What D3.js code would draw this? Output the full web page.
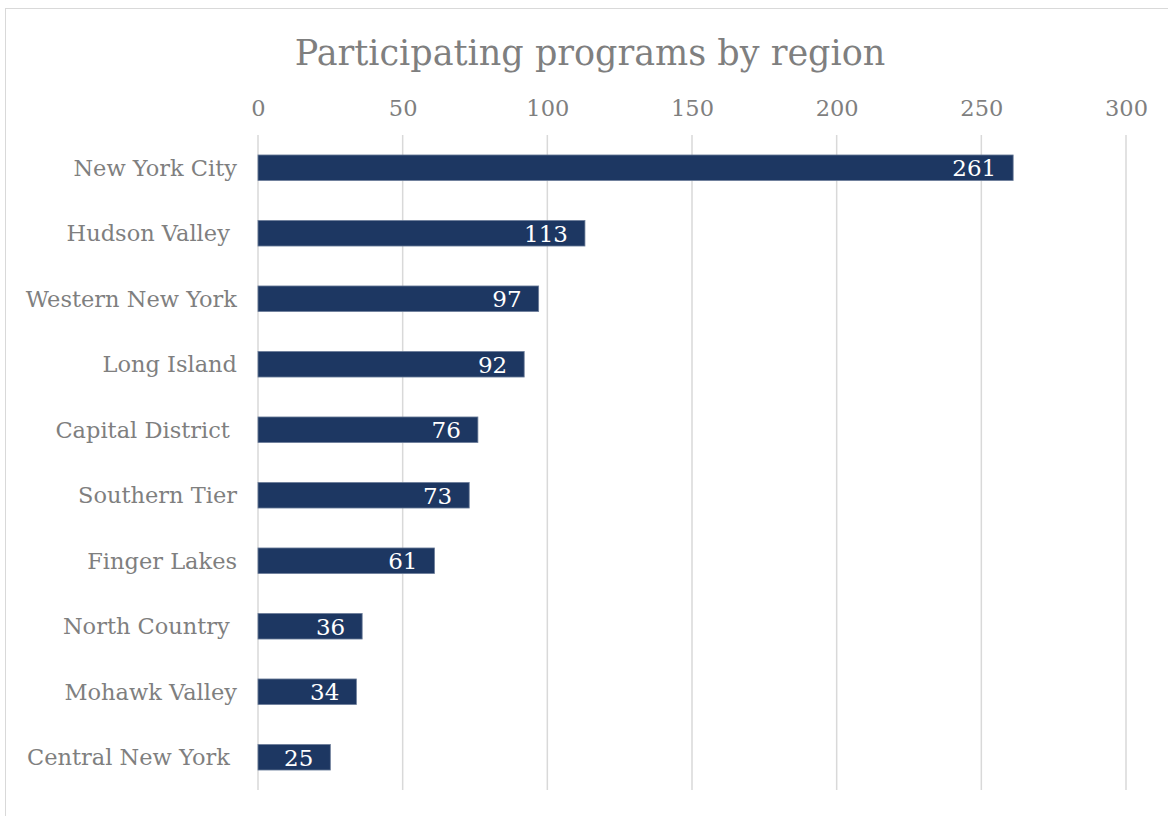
<!DOCTYPE html>
<html>
<head>
<meta charset="utf-8">
<script src="https://cdn.jsdelivr.net/npm/d3@7"></script>
<style>
  body { margin: 0; background: #fff; }
  text { font-family: "DejaVu Serif", serif; white-space: pre; }
</style>
</head>
<body>
<div id="wrapper"></div>
<script>
// region names (some carry a trailing space, as in the source sheet)
const regions = [
  "New York City", "Hudson Valley ", "Western New York", "Long Island",
  "Capital District ", "Southern Tier", "Finger Lakes", "North Country ",
  "Mohawk Valley", "Central New York "
];
const programs = [261, 113, 97, 92, 76, 73, 61, 36, 34, 25];
const xTicks = [0, 50, 100, 150, 200, 250, 300];

const width = 1168, height = 816;
const margin = { top: 135, right: 42, bottom: 26, left: 258 };

const svg = d3.select("#wrapper").append("svg")
  .attr("width", width)
  .attr("height", height);

// chart frame
svg.append("rect")
  .attr("x", 5.5).attr("y", 8.5)
  .attr("width", width - 4).attr("height", height)
  .attr("fill", "none")
  .attr("stroke", "#d9d9d9");

const x = d3.scaleLinear()
  .domain([0, 300])
  .range([margin.left, width - margin.right]);

const y = d3.scaleBand()
  .domain(regions)
  .range([margin.top, height - margin.bottom])
  .paddingInner(0.61)
  .paddingOuter(0.305);

// title
svg.append("text")
  .attr("x", 590)
  .attr("y", 65)
  .attr("text-anchor", "middle")
  .style("font-size", "35px")
  .style("fill", "#7f7f7f")
  .text("Participating programs by region");

// gridlines
svg.append("g")
  .selectAll("line")
  .data(xTicks)
  .join("line")
  .attr("x1", d => x(d)).attr("x2", d => x(d))
  .attr("y1", margin.top).attr("y2", height - margin.bottom)
  .attr("stroke", "#d9d9d9")
  .attr("stroke-width", 1.5);

// top axis
const xAxis = svg.append("g")
  .attr("transform", `translate(0,${margin.top - 19})`)
  .call(d3.axisTop(x).tickValues(xTicks).tickSize(0).tickPadding(0));
xAxis.select(".domain").remove();
xAxis.selectAll("text")
  .style("font-family", "DejaVu Serif, serif")
  .style("font-size", "22.5px")
  .style("fill", "#7f7f7f");

// category axis
const yAxis = svg.append("g")
  .attr("transform", `translate(${margin.left - 21},0)`)
  .call(d3.axisLeft(y).tickSize(0).tickPadding(0));
yAxis.select(".domain").remove();
yAxis.selectAll("text")
  .attr("dy", "0.35em")
  .style("font-family", "DejaVu Serif, serif")
  .style("font-size", "22.5px")
  .style("fill", "#7f7f7f")
  .style("white-space", "pre");

// bars
svg.append("g")
  .selectAll("rect")
  .data(programs)
  .join("rect")
  .attr("x", x(0))
  .attr("y", (d, i) => y(regions[i]))
  .attr("width", d => x(d) - x(0))
  .attr("height", y.bandwidth())
  .attr("fill", "#1d3762")
  .attr("stroke", "#6c7d99")
  .attr("stroke-width", 0.8);

// value labels inside bar ends
svg.append("g")
  .selectAll("text")
  .data(programs)
  .join("text")
  .attr("x", d => x(d) - 17)
  .attr("y", (d, i) => y(regions[i]) + y.bandwidth() / 2)
  .attr("dy", "0.36em")
  .attr("text-anchor", "end")
  .style("font-size", "23px")
  .style("fill", "#fff")
  .text(d => d);
</script>
</body>
</html>
